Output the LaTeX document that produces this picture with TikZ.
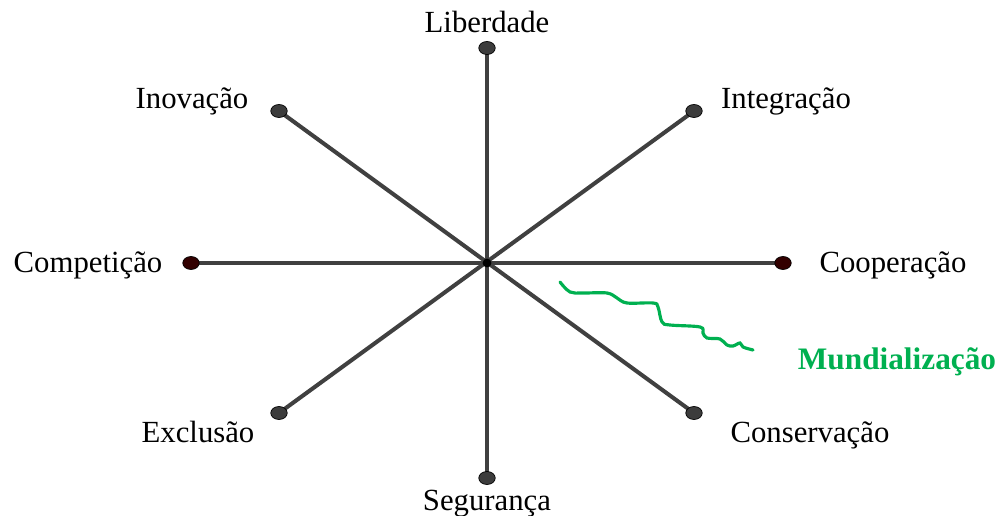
\documentclass[tikz,border=0pt]{standalone}
\usepackage{fontspec}
\setmainfont{Liberation Serif}
\usetikzlibrary{positioning,shapes.geometric,backgrounds}
\definecolor{axisgray}{RGB}{64, 64, 64}
\definecolor{dotgray}{RGB}{60, 60, 60}
\definecolor{dotred}{RGB}{50, 0, 0}
\definecolor{mundgreen}{RGB}{0, 176, 80}

\begin{document}
\begin{tikzpicture}[x=0.02cm, y=-0.02cm,
  endpt/.style={ellipse, draw=black, line width=0.4pt, fill=dotgray, inner sep=0pt, minimum width=0.33cm, minimum height=0.26cm},
  endptred/.style={endpt, fill=dotred},
  axis/.style={draw=axisgray, line width=2.3pt},
  lbl/.style={font=\fontsize{17.5}{20}\selectfont, inner sep=0pt},
  mund/.style={font=\fontsize{17.8}{20}\selectfont\bfseries, text=mundgreen, inner sep=0pt}
]
\useasboundingbox (0,0) rectangle (1000,516);
\coordinate (c) at (487,263);
% end points of the axes
\node[endpt] (lib) at (487,48) {};
\node[endpt] (seg) at (487,478) {};
\node[endptred] (comp) at (191,263) {};
\node[endptred] (coop) at (783,263) {};
\node[endpt] (inov) at (279,111) {};
\node[endpt] (integ) at (694,111) {};
\node[endpt] (excl) at (279,413) {};
\node[endpt] (cons) at (694,413) {};
% axes
\begin{pgfonlayer}{background}
\draw[axis] (lib.center) -- (seg.center);
\draw[axis] (comp.center) -- (coop.center);
\draw[axis] (inov.center) -- (cons.center);
\draw[axis] (integ.center) -- (excl.center);
\fill[black] (c) circle (2.5pt);
\end{pgfonlayer}
% labels
\node[lbl] (liblbl) at (487,22) {Liberdade};
\node[lbl] (seglbl) at (487,504) {Segurança};
\node[lbl] (complbl) at (88,265) {Competição};
\node[lbl] (cooplbl) at (893,265) {Cooperação};
\node[lbl] (inovlbl) at (192,101) {Inovação};
\node[lbl] (integlbl) at (786,101) {Integração};
\node[lbl] (excllbl) at (198,432) {Exclusão};
\node[lbl] (conslbl) at (810,435) {Conservação};
% squiggle
\draw[mundgreen, line width=1.8pt, line cap=round] plot[smooth, tension=0.6] coordinates {
  (560,282) (570,292) (583,293) (607,293) (617,298) (627,303) (653,303) (658,307)
  (662,322) (670,325) (700,327) (703,333) (707,338) (720,339) (727,345) (733,346)
  (740,343) (743,347) (753,350)};
\node[mund] (mundlbl) at (897,362) {Mundialização};
\end{tikzpicture}
\end{document}
